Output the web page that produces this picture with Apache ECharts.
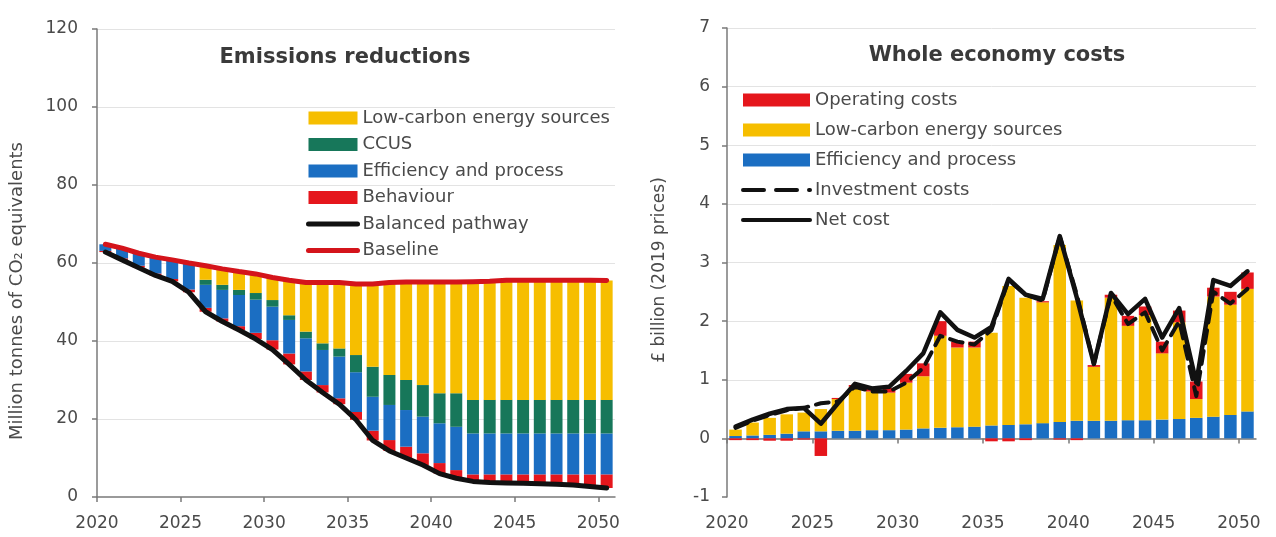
<!DOCTYPE html>
<html>
<head>
<meta charset="utf-8">
<script src="https://cdn.jsdelivr.net/npm/echarts@6/dist/echarts.min.js"></script>
<style>html,body{margin:0;padding:0;background:#fff}#c{width:1276px;height:537px}</style>
</head>
<body>
<div id="c"></div>
<script>
// ---------- shared ----------
const years = [2020,2021,2022,2023,2024,2025,2026,2027,2028,2029,2030,2031,2032,2033,2034,2035,2036,2037,2038,2039,2040,2041,2042,2043,2044,2045,2046,2047,2048,2049,2050];
const xTickYears = [2020,2025,2030,2035,2040,2045,2050];
const leftYTicks = [0,20,40,60,80,100,120];
const rightYTicks = [-1,0,1,2,3,4,5,6,7];

// ---------- Emissions reductions (MtCO2e) ----------
const pathway    = [62.8,60.8,58.8,56.8,55.3,52.5,47.5,45.0,42.8,40.5,37.8,34.0,30.0,26.8,23.8,19.8,14.5,11.8,10.0,8.2,6.0,4.8,4.0,3.7,3.6,3.5,3.4,3.3,3.1,2.7,2.3];
const behaviour  = [0.3,0.4,0.5,0.5,0.6,0.7,1.0,0.8,1.0,1.6,2.4,2.8,2.2,1.9,1.5,2.0,2.5,2.8,2.9,3.0,2.7,2.1,1.8,2.1,2.2,2.3,2.4,2.5,2.7,3.1,3.5];
const efficiency = [1.7,2.6,3.2,4.2,4.9,6.8,5.9,7.3,8.0,8.5,8.6,8.6,8.5,9.0,10.7,10.2,8.7,9.0,9.4,9.4,10.2,11.1,10.5,10.5,10.5,10.5,10.5,10.5,10.5,10.5,10.5];
const ccus       = [0,0,0,0,0,0,1.3,1.3,1.3,1.7,1.7,1.2,1.7,1.7,2.1,4.4,7.7,7.7,7.7,8.1,7.7,8.6,8.6,8.6,8.6,8.6,8.6,8.6,8.6,8.6,8.6];
const lowCarbon  = [0,0,0,0,0,0,3.6,4.1,4.7,4.9,5.8,9.0,12.6,15.6,16.9,18.2,21.2,23.7,25.1,26.4,28.5,28.5,30.3,30.4,30.7,30.7,30.7,30.7,30.7,30.7,30.6];
const baseline   = [64.8,63.8,62.5,61.5,60.8,60.0,59.3,58.5,57.8,57.2,56.3,55.6,55.0,55.0,55.0,54.6,54.6,55.0,55.1,55.1,55.1,55.1,55.2,55.3,55.6,55.6,55.6,55.6,55.6,55.6,55.5];

// ---------- Whole economy costs (£bn, 2019 prices) ----------
const costEfficiency  = [0.04,0.05,0.06,0.08,0.12,0.12,0.13,0.13,0.14,0.14,0.15,0.17,0.18,0.19,0.2,0.22,0.23,0.24,0.26,0.28,0.3,0.3,0.3,0.31,0.31,0.32,0.33,0.35,0.37,0.4,0.46];
const costLowCarbon   = [0.11,0.22,0.29,0.33,0.32,0.38,0.54,0.75,0.66,0.64,0.8,0.89,1.57,1.36,1.35,1.58,2.37,2.16,2.06,3.02,2.05,0.92,2.1,1.61,1.79,1.13,1.65,0.32,2.05,1.88,2.09];
const operatingCosts  = [-0.03,-0.03,-0.04,-0.04,-0.02,-0.3,0.02,0.03,0.05,0.08,0.15,0.22,0.25,0.1,0.1,-0.05,-0.05,-0.03,0.02,-0.02,-0.03,0.03,0.05,0.17,0.15,0.2,0.2,0.3,0.15,0.22,0.28];
const investmentCosts = [0.18,0.3,0.4,0.48,0.52,0.6,0.63,0.88,0.8,0.8,0.95,1.2,1.75,1.65,1.6,1.85,2.7,2.45,2.35,3.45,2.45,1.27,2.45,1.95,2.15,1.5,2.0,0.72,2.5,2.3,2.55];
const netCost         = [0.2,0.32,0.42,0.5,0.52,0.25,0.6,0.93,0.85,0.88,1.15,1.45,2.15,1.85,1.72,1.9,2.72,2.45,2.38,3.45,2.4,1.27,2.48,2.12,2.38,1.72,2.22,0.95,2.7,2.6,2.85];

// ---------- styling ----------
const FONT = 'DejaVu Sans';
const C = {yellow:'#F6BE00', green:'#17775A', blue:'#1B6EC2', red:'#E5161C', baseline:'#D4141B', black:'#111111', axis:'#7a7a7a', grid:'#e3e3e3', text:'#4a4a4a'};

// rows are [value, year-slot-centre]; value first so that stacking happens on the value dimension
const pts = arr => years.map((y, i) => [arr[i], y + 0.5]);
const ENC = {x:1, y:0};

function xAxisCommon(gridIndex) {
  return {
    gridIndex, type:'value', min: years[0], max: years[years.length-1] + 1, interval: 5,
    splitLine:{show:false},
    axisLine:{show:true, lineStyle:{color:C.axis, width:1.5}},
    axisTick:{show:true, length:5, inside:false, customValues:xTickYears, lineStyle:{color:C.axis, width:1.5}},
    axisLabel:{show:true, customValues:xTickYears, formatter: v => String(v), fontSize:17, color:C.text, margin:18, fontFamily:FONT}
  };
}

const xL = xAxisCommon(0);
const xR0 = xAxisCommon(1);
xR0.axisLine.onZero = true;
xR0.axisLabel = {show:false};
const xR1 = xAxisCommon(1);
xR1.position = 'bottom';
xR1.axisLine = {show:false, onZero:false};
xR1.axisTick = {show:false};

function yAxis(gridIndex, ticks, margin) {
  const lineColors = ticks.map((t, i) => i === 0 ? 'rgba(0,0,0,0)' : C.grid);
  return {
    gridIndex, type:'value', min: ticks[0], max: ticks[ticks.length-1], interval: ticks[1]-ticks[0],
    axisLine:{show:true, onZero:false, lineStyle:{color:C.axis, width:1.5}},
    axisTick:{show:true, length:5, lineStyle:{color:C.axis, width:1.5}},
    axisLabel:{fontSize:17, color:C.text, margin, fontFamily:FONT},
    splitLine:{show:true, lineStyle:{color:lineColors, width:1}}
  };
}

const barBase = (name, data, color, xi, yi, stack, w) => ({
  name, type:'bar', xAxisIndex:xi, yAxisIndex:yi, stack, barWidth:w,
  encode:ENC, data: pts(data), itemStyle:{color}, silent:true, animation:false, z:2
});
const lineBase = (name, data, color, xi, yi, width, dash) => ({
  name, type:'line', xAxisIndex:xi, yAxisIndex:yi, encode:ENC, data: pts(data), symbol:'none',
  lineStyle:{color, width, type: dash || 'solid', cap:'round', join:'round'},
  itemStyle:{color}, silent:true, animation:false, z:4
});

const hideDot = {color:'rgba(0,0,0,0)', borderWidth:0, opacity:0};

const option = {
  animation:false,
  backgroundColor:'#ffffff',
  textStyle:{fontFamily:FONT},
  title:[
    {text:'Emissions reductions', left:345, top:47, textAlign:'center', padding:0,
     textStyle:{fontSize:21, fontWeight:'bold', color:'#3a3a3a', fontFamily:FONT}},
    {text:'Whole economy costs', left:997, top:45, textAlign:'center', padding:0,
     textStyle:{fontSize:21, fontWeight:'bold', color:'#3a3a3a', fontFamily:FONT}}
  ],
  graphic:[
    {type:'text', x:17, y:291, rotation:Math.PI/2, silent:true,
     style:{text:'Million tonnes of CO\u2082 equivalents', fill:C.text, font:'18px "DejaVu Sans"', align:'center', verticalAlign:'middle'}},
    {type:'text', x:660, y:270, rotation:Math.PI/2, silent:true,
     style:{text:'\u00a3 billion (2019 prices)', fill:C.text, font:'17px "DejaVu Sans"', align:'center', verticalAlign:'middle'}}
  ],
  legend:[
    {left:306, top:109, padding:0, orient:'vertical', itemWidth:49, itemHeight:13, itemGap:8.5, selectedMode:false,
     textStyle:{fontSize:18, color:C.text, fontFamily:FONT},
     data:[{name:'Low-carbon energy sources', icon:'rect'},{name:'CCUS', icon:'rect'},{name:'Efficiency and process', icon:'rect'},{name:'Behaviour', icon:'rect'},
           {name:'Balanced pathway', itemStyle:hideDot, lineStyle:{width:5}},
           {name:'Baseline', itemStyle:hideDot, lineStyle:{width:5}}]},
    {left:741, top:91, padding:0, orient:'vertical', itemWidth:67, itemHeight:13, itemGap:12, selectedMode:false,
     textStyle:{fontSize:18, color:C.text, fontFamily:FONT},
     data:[{name:'Operating costs', icon:'rect'},{name:'Low-carbon energy sources', icon:'rect'},{name:'Efficiency and process', icon:'rect'},
           {name:'Investment costs', itemStyle:hideDot, lineStyle:{width:4, type:[21,12]}},
           {name:'Net cost', itemStyle:hideDot, lineStyle:{width:4}}]}
  ],
  grid:[
    {left:97, top:29, width:518, height:468},
    {left:727, top:28, width:529, height:469}
  ],
  xAxis:[xL, xR0, xR1],
  yAxis:[
    yAxis(0, leftYTicks, 19),
    yAxis(1, rightYTicks, 17)
  ],
  series:[
    // left: invisible base up to the balanced pathway, then reductions stacked to the baseline
    barBase('_base', pathway, 'rgba(0,0,0,0)', 0, 0, 'em', 12),
    barBase('Behaviour', behaviour, C.red, 0, 0, 'em', 12),
    barBase('Efficiency and process', efficiency, C.blue, 0, 0, 'em', 12),
    barBase('CCUS', ccus, C.green, 0, 0, 'em', 12),
    barBase('Low-carbon energy sources', lowCarbon, C.yellow, 0, 0, 'em', 12),
    lineBase('Balanced pathway', pathway, C.black, 0, 0, 5),
    lineBase('Baseline', baseline, C.baseline, 0, 0, 5),
    // right
    barBase('Efficiency and process', costEfficiency, C.blue, 1, 1, 'cost', 12.5),
    barBase('Low-carbon energy sources', costLowCarbon, C.yellow, 1, 1, 'cost', 12.5),
    barBase('Operating costs', operatingCosts, C.red, 1, 1, 'cost', 12.5),
    lineBase('Investment costs', investmentCosts, C.black, 1, 1, 4, [13, 8]),
    lineBase('Net cost', netCost, C.black, 1, 1, 4.5)
  ]
};

const chart = echarts.init(document.getElementById('c'), null, {renderer:'canvas', width:1276, height:537});
chart.setOption(option);
</script>
</body>
</html>
